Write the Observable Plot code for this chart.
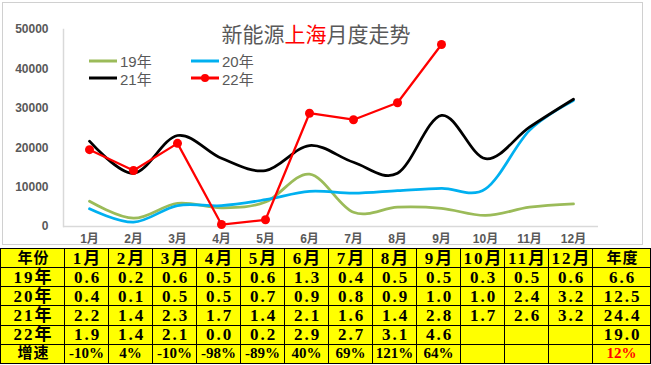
<!DOCTYPE html>
<html>
<head>
<meta charset="utf-8">
<script src="https://cdn.jsdelivr.net/npm/d3@7"></script>
<script src="https://cdn.jsdelivr.net/npm/@observablehq/plot@0.6"></script>
<style>
  html, body { margin: 0; padding: 0; background: #fff; }
  #wrap { position: relative; width: 651px; height: 365px; overflow: hidden; }
  #frame { position: absolute; left: 2px; top: 2px; width: 641px; height: 243px; border: 1px solid #d0d0d0; box-sizing: border-box; }
  #chart { position: absolute; left: 0; top: 0; }
  #title { position: absolute; left: 0; top: 20px; width: 632px; text-align: center; font: 21px "Noto Sans CJK SC", sans-serif; color: #595959; line-height: 26px; }
  #title .hl { color: #ff0000; }
  #legend { position: absolute; left: 89px; top: 52px; font: 15px "Liberation Sans", "Noto Sans CJK SC", sans-serif; color: #595959; display: grid; grid-template-columns: 102px 102px; row-gap: 0px; }
  #legend .item { display: flex; align-items: center; height: 17.5px; }
  #legend svg { margin-right: 3px; }
  #table { position: absolute; left: 0; top: 248px; border-collapse: collapse; table-layout: fixed; width: 650px; height: 116px; background: #ffff00; }
  #table td { border: 1px solid #000; padding: 0; text-align: center; font: bold 17px "Liberation Serif", "Noto Sans CJK SC", serif; letter-spacing: 2px; text-indent: 2px; color: #000; line-height: 17px; white-space: nowrap; overflow: hidden; }
  #table td.cjk { font-size: 15px; letter-spacing: 1px; }
  #table td.g { font-size: 15px; letter-spacing: 0; text-indent: 0; }
  #table td.red { color: #ff0000; }
</style>
</head>
<body>
<div id="wrap">
  <div id="frame"></div>
  <div id="chart"></div>
  <div id="title">新能源<span class="hl">上海</span>月度走势</div>
  <div id="legend"></div>
  <table id="table"></table>
</div>
<script>
// ---- data ----
const months = ["1月","2月","3月","4月","5月","6月","7月","8月","9月","10月","11月","12月"];
const seriesNames = ["19年","20年","21年","22年"];
const v19 = [6400, 2100, 5900, 4750, 6200, 13300, 3600, 4900, 4600, 2800, 4900, 5750];
const v20 = [4500, 1100, 5300, 5300, 6800, 8900, 8450, 9100, 9700, 9550, 24400, 32000];
const v21 = [21650, 13500, 23100, 17300, 14200, 20550, 16300, 13500, 28200, 17200, 25200, 32300];
const v22 = [19500, 14200, 21100, 500, 1700, 28750, 27100, 31400, 46200];
const yTicks = [0, 10000, 20000, 30000, 40000, 50000];

// table values (万辆)
const t19 = [0.6, 0.2, 0.6, 0.5, 0.6, 1.3, 0.4, 0.5, 0.5, 0.3, 0.5, 0.6];
const t20 = [0.4, 0.1, 0.5, 0.5, 0.7, 0.9, 0.8, 0.9, 1.0, 1.0, 2.4, 3.2];
const t21 = [2.2, 1.4, 2.3, 1.7, 1.4, 2.1, 1.6, 1.4, 2.8, 1.7, 2.6, 3.2];
const t22 = [1.9, 1.4, 2.1, 0.0, 0.2, 2.9, 2.7, 3.1, 4.6];
const yearTotals = [6.6, 12.5, 24.4, 19.0];
const growth = [-10, 4, -10, -98, -89, 40, 69, 121, 64];
const growthTotal = 12;

const colors = {"19年": "#9bbb59", "20年": "#00b0f0", "21年": "#000000", "22年": "#ff0000"};

// ---- chart ----
const rows = [];
[v19, v20, v21, v22].forEach((vals, si) => {
  vals.forEach((v, i) => rows.push({series: seriesNames[si], month: months[i], value: v}));
});
const smooth = rows.filter(d => d.series !== "22年");
const red = rows.filter(d => d.series === "22年");

const chart = Plot.plot({
  width: 651,
  height: 247,
  marginTop: 29,
  marginBottom: 21,
  marginLeft: 63,
  marginRight: 53,
  style: {fontFamily: "'Liberation Sans', 'Noto Sans CJK SC', sans-serif", background: "transparent"},
  x: {type: "point", domain: months, padding: 0.5, label: null},
  y: {domain: [0, 50000], label: null},
  marks: [
    Plot.ruleY([0], {stroke: "#d9d9d9", strokeWidth: 1.5}),
    Plot.frame({anchor: "left", stroke: "#d9d9d9", strokeWidth: 1.5}),
    Plot.axisY({ticks: yTicks, tickSize: 0, tickPadding: 15, tickFormat: d => String(d), fontSize: 12, fontWeight: "bold", fill: "#595959", label: null}),
    Plot.axisX({tickSize: 0, tickPadding: 8, fontSize: 12, fontWeight: "bold", fill: "#595959", label: null}),
    Plot.line(smooth, {x: "month", y: "value", z: "series", stroke: d => colors[d.series], strokeWidth: 2.75, curve: "cardinal"}),
    Plot.line(red, {x: "month", y: "value", stroke: colors["22年"], strokeWidth: 2.25, curve: "linear"}),
    Plot.dot(red, {x: "month", y: "value", r: 4.5, fill: colors["22年"], stroke: "none"})
  ]
});
document.getElementById("chart").appendChild(chart);

// ---- legend ----
const legend = document.getElementById("legend");
for (const name of ["19年", "20年", "21年", "22年"]) {
  const item = document.createElement("div");
  item.className = "item";
  const c = colors[name];
  const dot = name === "22年" ? `<circle cx="14" cy="5" r="4" fill="${c}"/>` : "";
  item.innerHTML = `<svg width="28" height="10"><line x1="0" x2="28" y1="5" y2="5" stroke="${c}" stroke-width="3"/>${dot}</svg><span>${name}</span>`;
  legend.appendChild(item);
}

// ---- table ----
const table = document.getElementById("table");
const colgroup = document.createElement("colgroup");
const widths = [64, ...months.map(() => 44), 58];
for (const w of widths) { const col = document.createElement("col"); col.style.width = w + "px"; colgroup.appendChild(col); }
table.appendChild(colgroup);
function addRow(cells) {
  const tr = document.createElement("tr");
  for (const c of cells) {
    const td = document.createElement("td");
    td.textContent = c.text;
    if (c.cls) td.className = c.cls;
    tr.appendChild(td);
  }
  table.appendChild(tr);
}
addRow([{text: "年份", cls: "cjk"}, ...months.map(m => ({text: m})), {text: "年度", cls: "cjk"}]);
[t19, t20, t21, t22].forEach((vals, si) => {
  const cells = [{text: seriesNames[si]}];
  for (let i = 0; i < 12; i++) cells.push({text: vals[i] === undefined ? "" : vals[i].toFixed(1)});
  cells.push({text: yearTotals[si].toFixed(1)});
  addRow(cells);
});
{
  const cells = [{text: "增速", cls: "cjk"}];
  for (let i = 0; i < 12; i++) cells.push({text: growth[i] === undefined ? "" : growth[i] + "%", cls: "g"});
  cells.push({text: growthTotal + "%", cls: "g red"});
  addRow(cells);
}
</script>
</body>
</html>
